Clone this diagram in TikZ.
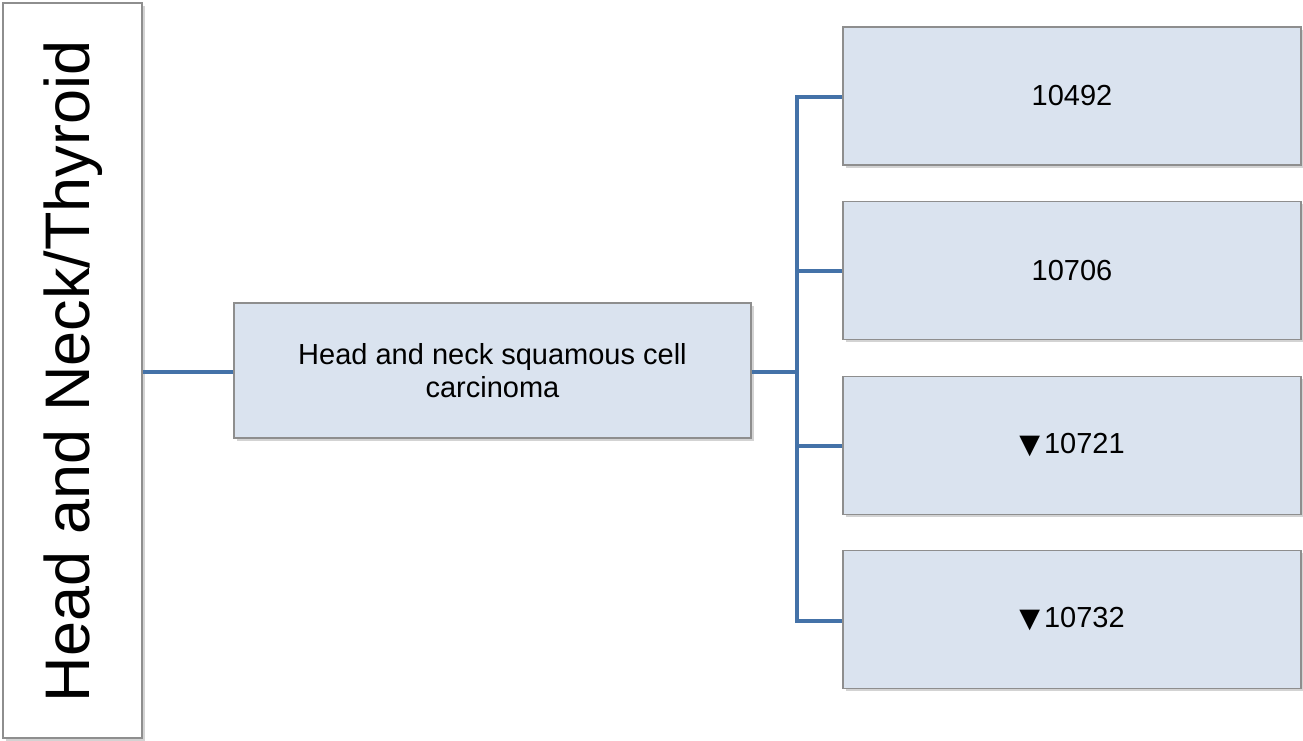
\documentclass[tikz,border=0pt]{standalone}
\usepackage{fontspec}
\setmainfont{Liberation Sans}
\newfontfamily\symfont{DejaVu Sans}
\usetikzlibrary{shadows}
\definecolor{boxfill}{HTML}{DAE3EF}
\definecolor{boxline}{HTML}{8E8E8E}
\definecolor{connblue}{HTML}{4472A8}
\newcommand{\downtri}{{\symfont\fontsize{27}{33}\selectfont▼}\kern4pt}
\begin{document}
\begin{tikzpicture}[x=1pt,y=-1pt,
  box/.style={draw=boxline, line width=1.5pt, fill=boxfill, inner sep=0pt,
    drop shadow={opacity=0.35, shadow xshift=2.5pt, shadow yshift=-2.5pt}},
  whitebox/.style={box, fill=white},
  conn/.style={draw=connblue, line width=4pt},
  txt/.style={font=\fontsize{29}{33}\selectfont, align=center, text=black}]
\useasboundingbox (0,0) rectangle (1303,740);
\node[whitebox, minimum width=139pt, minimum height=735pt] (left) at (72.5,370.5) {};
\node[rotate=90, inner sep=0pt, font=\fontsize{63}{70}\selectfont] (lefttext) at (73,371.5) {Head and Neck/Thyroid};
\node[box, minimum width=517pt, minimum height=135pt] (mid) at (492.5,370.5) {};
\node[txt] (midtext) at (492.5,371) {Head and neck squamous cell\\carcinoma};
\node[box, minimum width=458pt, minimum height=138pt, txt] (r1) at (1072,96) {10492};
\node[box, minimum width=458pt, minimum height=138pt, txt] (r2) at (1072,270.5) {10706};
\node[box, minimum width=458pt, minimum height=138pt, txt] (r3) at (1072,445.5) {\downtri10721};
\node[box, minimum width=458pt, minimum height=138pt, txt] (r4) at (1072,619.5) {\downtri10732};
\coordinate (bus) at (797,372);
\draw[conn] ([yshift=-1.5pt]mid.west) -- ([yshift=-1.5pt]mid.west -| left.east);
\draw[conn] ([yshift=-1.5pt]mid.east) -- ([yshift=-1.5pt]mid.east -| bus);
\draw[conn, line join=miter] ([yshift=-1pt]r1.west) -| ([yshift=-1.5pt]r4.west -| bus) -- ([yshift=-1.5pt]r4.west);
\draw[conn] (r2.west) -- (r2.west -| bus);
\draw[conn] (r3.west) -- (r3.west -| bus);
\end{tikzpicture}
\end{document}
